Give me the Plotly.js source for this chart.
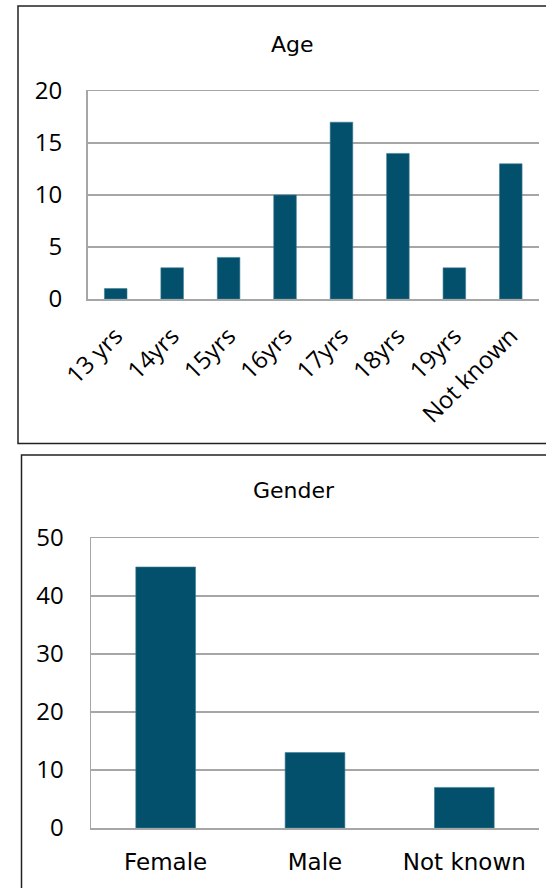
<!DOCTYPE html>
<html>
<head>
<meta charset="utf-8">
<script src="https://cdn.plot.ly/plotly-3.0.1.min.js"></script>
<style>html,body{margin:0;padding:0;background:#fff;}#chart{width:546px;height:888px;}</style>
</head>
<body>
<div id="chart"></div>
<script>
const ageCats = ['13 yrs', '14yrs', '15yrs', '16yrs', '17yrs', '18yrs', '19yrs', 'Not known'];
const ageVals = [1, 3, 4, 10, 17, 14, 3, 13];
const ageTicks = [0, 5, 10, 15, 20];
const genderCats = ['Female', 'Male', 'Not known'];
const genderVals = [45, 13, 7];
const genderTicks = [0, 10, 20, 30, 40, 50];

const W = 546, H = 888;
const px = v => v / W;
const py = v => 1 - v / H;
const barColor = '#02506b';
const gridColor = '#a6a6a6';
const tickFont = {family: 'Open Sans, sans-serif', size: 24, color: '#000'};
const titleFont = {family: 'DejaVu Sans, sans-serif', size: 22, color: '#000'};

const data = [
  {type: 'bar', x: ageCats, y: ageVals, xaxis: 'x', yaxis: 'y',
   marker: {color: barColor, line: {color: '#3d7c93', width: 0.6}}, hoverinfo: 'none'},
  {type: 'bar', x: genderCats, y: genderVals, xaxis: 'x2', yaxis: 'y2',
   marker: {color: barColor, line: {color: '#3d7c93', width: 0.6}}, hoverinfo: 'none'}
];

const layout = {
  width: W, height: H,
  margin: {l: 0, r: 0, t: 0, b: 0},
  paper_bgcolor: '#fff', plot_bgcolor: '#fff',
  showlegend: false,
  bargap: 0.6,
  xaxis: {
    domain: [px(87.5), px(539)], anchor: 'y', type: 'category',
    showgrid: false, showline: true, mirror: true, linecolor: gridColor, linewidth: 1.5,
    ticks: '', tickangle: -45, tickfont: tickFont, ticklabelstandoff: 12, fixedrange: true
  },
  yaxis: {
    domain: [py(299), py(91)], anchor: 'x', range: [0, 20], tickvals: ageTicks,
    showgrid: true, gridcolor: gridColor, gridwidth: 1.5, zeroline: false,
    showline: true, linecolor: gridColor, linewidth: 1.5,
    ticks: '', tickfont: tickFont, ticklabelstandoff: 19, fixedrange: true
  },
  xaxis2: {
    domain: [px(91), px(539)], anchor: 'y2', type: 'category',
    showgrid: false, showline: true, mirror: true, linecolor: gridColor, linewidth: 1.5,
    ticks: '', tickangle: 0, tickfont: {family: 'DejaVu Sans, sans-serif', size: 23, color: '#000'},
    ticklabelstandoff: 13, fixedrange: true
  },
  yaxis2: {
    domain: [py(828), py(538)], anchor: 'x2', range: [0, 50], tickvals: genderTicks,
    showgrid: true, gridcolor: gridColor, gridwidth: 1.5, zeroline: false,
    showline: true, linecolor: gridColor, linewidth: 1.5,
    ticks: '', tickfont: tickFont, ticklabelstandoff: 21, fixedrange: true
  },
  annotations: [
    {text: 'Age', xref: 'paper', yref: 'paper', x: px(292), y: py(45), xanchor: 'center', yanchor: 'middle', showarrow: false, font: titleFont},
    {text: 'Gender', xref: 'paper', yref: 'paper', x: px(294), y: py(491), xanchor: 'center', yanchor: 'middle', showarrow: false, font: titleFont}
  ],
  shapes: [
    {type: 'rect', xref: 'paper', yref: 'paper', x0: px(18), x1: px(560), y0: py(443.5), y1: py(6), line: {color: '#222', width: 1.5}, fillcolor: 'rgba(0,0,0,0)', layer: 'below'},
    {type: 'rect', xref: 'paper', yref: 'paper', x0: px(21.5), x1: px(560), y0: py(900), y1: py(455), line: {color: '#222', width: 1.5}, fillcolor: 'rgba(0,0,0,0)', layer: 'below'}
  ]
};

Plotly.newPlot('chart', data, layout, {displayModeBar: false, staticPlot: true});
</script>
</body>
</html>
